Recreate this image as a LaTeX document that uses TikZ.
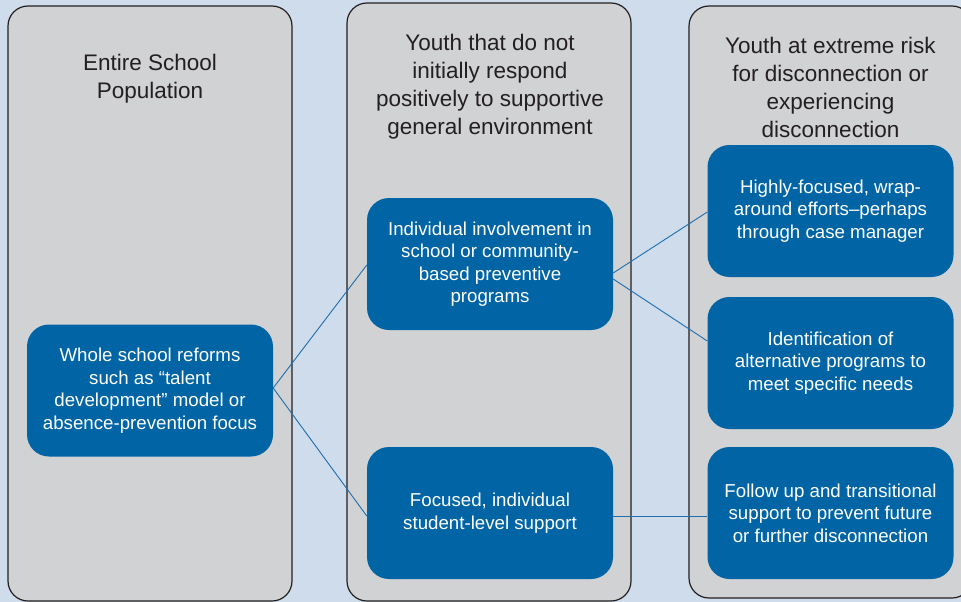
\documentclass[tikz,border=0pt]{standalone}
\usepackage{fontspec}
\setmainfont{Liberation Sans}
\definecolor{bg}{HTML}{CFDCEC}
\definecolor{colgray}{HTML}{D1D2D4}
\definecolor{boxblue}{HTML}{0064A5}
\definecolor{linkblue}{HTML}{1E6EAE}
\definecolor{ink}{HTML}{231F20}
\begin{document}
\begin{tikzpicture}[x=1pt,y=-1pt,
  column/.style={draw=ink, line width=1.2pt, fill=colgray, rounded corners=20pt},
  header/.style={text=ink, font=\fontsize{22.5}{28}\selectfont, align=center, inner sep=0pt},
  bluebox/.style={fill=boxblue, rounded corners=22pt, text=white,
    font=\fontsize{18.7}{22.5}\selectfont, align=center,
    minimum width=246pt, minimum height=132pt, inner sep=0pt},
  link/.style={draw=linkblue, line width=0.9pt}]
\fill[bg] (0,0) rectangle (961,602);
\useasboundingbox (0,0) rectangle (961,602);
\begin{scope}
\clip (0,0) rectangle (961,602);
\draw[column] (8,6) rectangle (292,601);
\draw[column] (347,3) rectangle (631,601);
\draw[column] (689,6) rectangle (972,598);
\end{scope}

\node[header] (h1) at (150,79) {Entire School\\Population};
\node[header] (h2) at (490,87) {Youth that do not\\initially respond\\positively to supportive\\general environment};
\node[header] (h3) at (830.5,87) {Youth at extreme risk\\for disconnection or\\experiencing\\disconnection};

\node[bluebox] (A) at (150,390.5) {Whole school reforms\\such as “talent\\development” model or\\absence-prevention focus};
\node[bluebox] (B) at (490,264) {Individual involvement in\\school or community-\\based preventive\\programs};
\node[bluebox] (C) at (490,513) {Focused, individual\\student-level support};
\node[bluebox] (D) at (830.5,211) {Highly-focused, wrap-\\around efforts–perhaps\\through case manager};
\node[bluebox] (E) at (830.5,363) {Identification of\\alternative programs to\\meet specific needs};
\node[bluebox] (F) at (830.5,513) {Follow up and transitional\\support to prevent future\\or further disconnection};

\draw[link] ([yshift=2.5pt]A.east) -- ([yshift=-1pt]B.west);
\draw[link] ([yshift=2.5pt]A.east) -- ([yshift=-3pt]C.west);
\draw[link] ([yshift=-9pt]B.east) -- ([yshift=-1pt]D.west);
\draw[link] ([yshift=-15pt]B.east) -- ([yshift=22pt]E.west);
\draw[link] ([yshift=-3pt]C.east) -- ([yshift=-3pt]F.west);
\end{tikzpicture}
\end{document}
